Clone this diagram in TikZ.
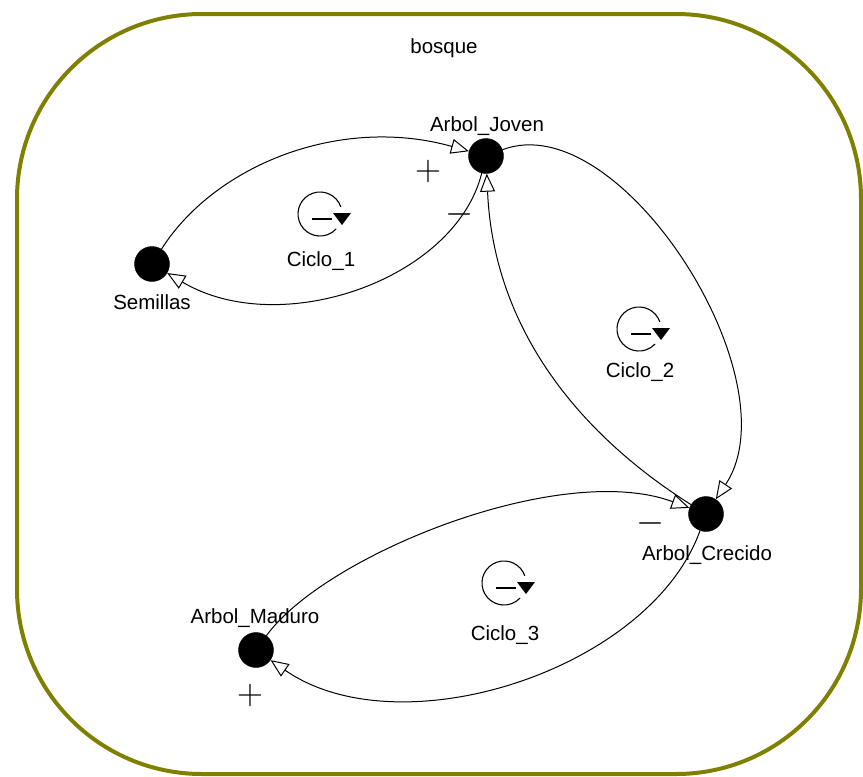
\documentclass[tikz,border=0pt]{standalone}
\usepackage[no-math]{fontspec}
\setmainfont{Liberation Sans}
\usetikzlibrary{arrows.meta}
\definecolor{olivefr}{RGB}{128,128,0}
\newcommand{\bigsign}[1]{\scalebox{1.45}{\fontsize{24.88}{26}\selectfont$#1$}}
\begin{document}
\begin{tikzpicture}[x=1pt,y=-1pt,
  stock/.style={circle,fill=black,draw=black,inner sep=0pt,minimum size=35pt},
  lbl/.style={font=\fontsize{20.5}{22}\selectfont,inner sep=0pt,anchor=base},
  sgn/.style={inner sep=0pt},
  link/.style={draw=black,line width=1pt,-{Triangle[fill=white,length=18pt,width=15pt,line width=1pt]}},
  loopic/.pic={
    \begin{scope}[yscale=-1]
      \draw[line width=1.1pt] (19:22) arc[start angle=19,end angle=317,radius=22];
      \fill (13,1) -- (31,1) -- (22,-11) -- cycle;
      \draw[line width=1.3pt] (-8,-5) -- (12,-5);
    \end{scope}
  }
  ]
\useasboundingbox (0,0) rectangle (863,777);
\draw[line width=4pt,draw=olivefr,rounded corners=185pt] (17,14) rectangle (861,774);

\node[lbl] (bosque) at (444,53) {bosque};

\node[stock] (J) at (486,156) {};
\node[stock] (S) at (152,264) {};
\node[stock] (C) at (706,514) {};
\node[stock] (M) at (256,650) {};

\node[lbl] (Jl) at (487,131) {Arbol\_Joven};
\node[lbl] (Sl) at (152,309) {Semillas};
\node[lbl] (Cl) at (707,560) {Arbol\_Crecido};
\node[lbl] (Ml) at (255,623) {Arbol\_Maduro};

\pic at (320,214) {loopic};
\pic at (639,329) {loopic};
\pic at (504,583) {loopic};
\node[lbl] (c1) at (321,266) {Ciclo\_1};
\node[lbl] (c2) at (640,377) {Ciclo\_2};
\node[lbl] (c3) at (505,640) {Ciclo\_3};

\draw[link] (S) .. controls (215,165) and (340,115) .. (J);
\draw[link] (J) .. controls (455,280) and (280,340) .. (S);
\draw[link] (C) .. controls (620,460) and (495,360) .. (J);
\draw[link] (J) .. controls (620,105) and (795,380) .. (C);
\draw[link] (M) .. controls (325,555) and (560,460) .. (C);
\draw[link] (C) .. controls (650,670) and (400,750) .. (M);

\node[sgn] (p1) at (428,171) {\bigsign{+}};
\node[sgn] (m1) at (460,214) {\bigsign{-}};
\node[sgn] (m2) at (651,523) {\bigsign{-}};
\node[sgn] (p2) at (250,695) {\bigsign{+}};
\end{tikzpicture}
\end{document}
